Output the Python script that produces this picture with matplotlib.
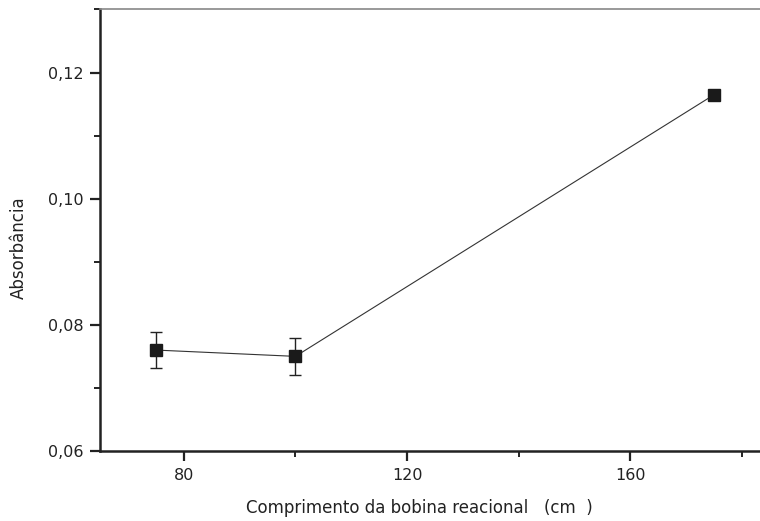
import matplotlib.pyplot as plt
from matplotlib.ticker import FixedLocator

plt.rcParams['font.family'] = ['DejaVu Sans']

# coil length (cm) vs absorbance
comprimento = [75, 100, 175]
absorbancia = [0.076, 0.075, 0.1165]
erro = [0.0029, 0.0029, 0.0]

x_ticks = [80, 120, 160]
x_minor = [100, 140, 180]
y_ticks = [0.06, 0.08, 0.10, 0.12]
y_labels = ['0,06', '0,08', '0,10', '0,12']
y_minor = [0.07, 0.09, 0.11, 0.13]


def main():
    fig = plt.figure(figsize=(7.6, 5.21), dpi=100)
    ax = fig.add_axes([0.1316, 0.1344, 0.8816, 0.8474])

    ax.errorbar(
        comprimento, absorbancia, yerr=erro,
        color='#333333', lw=0.8, marker='s', markersize=8,
        mfc='#1a1a1a', mec='#1a1a1a', ecolor='#222222',
        elinewidth=1.0, capsize=4, capthick=1.0,
    )

    ax.set_xlim(65, 185)
    ax.set_ylim(0.06, 0.13)

    ax.xaxis.set_major_locator(FixedLocator(x_ticks))
    ax.xaxis.set_minor_locator(FixedLocator(x_minor))
    ax.set_xticklabels([str(t) for t in x_ticks])
    ax.yaxis.set_major_locator(FixedLocator(y_ticks))
    ax.yaxis.set_minor_locator(FixedLocator(y_minor))
    ax.set_yticklabels(y_labels)

    ax.tick_params(which='major', direction='out', length=7, width=1.6,
                   color='#222222', labelsize=11.5, pad=5, labelcolor='#222222')
    ax.tick_params(which='minor', direction='out', length=4, width=1.4,
                   color='#222222')

    for side in ('left', 'bottom'):
        ax.spines[side].set_linewidth(1.8)
        ax.spines[side].set_color('#222222')
    ax.spines['top'].set_linewidth(1.2)
    ax.spines['top'].set_color('#888888')
    ax.spines['right'].set_visible(False)

    ax.set_xlabel('Comprimento da bobina reacional   (cm  )',
                  fontsize=12, color='#222222', va='top')
    ax.set_ylabel('Absorbância', fontsize=12, color='#222222')
    ax.xaxis.set_label_coords(0.476, -0.109)
    ax.yaxis.set_label_coords(-0.108, 0.46)

    fig.savefig('out.png', dpi=100)


if __name__ == "__main__":
    main()
